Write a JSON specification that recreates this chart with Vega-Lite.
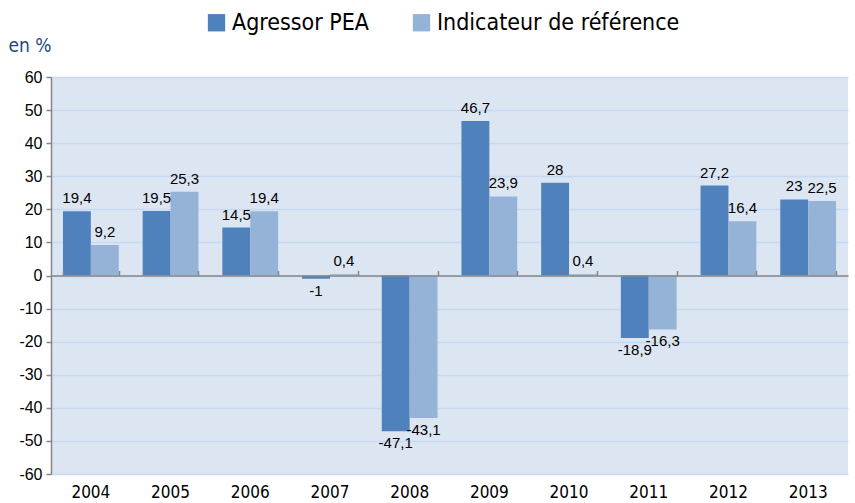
{
  "$schema": "https://vega.github.io/schema/vega-lite/v6.json",
  "width": 797,
  "height": 397,
  "autosize": {"type": "none"},
  "padding": {"left": 51, "top": 77, "right": 7, "bottom": 29},
  "background": "white",
  "config": {
    "view": {"fill": "#dce6f2", "stroke": null},
    "locale": {"number": {"decimal": ",", "thousands": " ", "grouping": [3], "currency": ["", " €"], "minus": "-"}},
    "font": "Arial"
  },
  "data": {
    "values": [
      {"year": "2004", "series": "Agressor PEA", "value": 19.4},
      {"year": "2004", "series": "Indicateur de référence", "value": 9.2},
      {"year": "2005", "series": "Agressor PEA", "value": 19.5},
      {"year": "2005", "series": "Indicateur de référence", "value": 25.3},
      {"year": "2006", "series": "Agressor PEA", "value": 14.5},
      {"year": "2006", "series": "Indicateur de référence", "value": 19.4},
      {"year": "2007", "series": "Agressor PEA", "value": -1},
      {"year": "2007", "series": "Indicateur de référence", "value": 0.4},
      {"year": "2008", "series": "Agressor PEA", "value": -47.1},
      {"year": "2008", "series": "Indicateur de référence", "value": -43.1},
      {"year": "2009", "series": "Agressor PEA", "value": 46.7},
      {"year": "2009", "series": "Indicateur de référence", "value": 23.9},
      {"year": "2010", "series": "Agressor PEA", "value": 28},
      {"year": "2010", "series": "Indicateur de référence", "value": 0.4},
      {"year": "2011", "series": "Agressor PEA", "value": -18.9},
      {"year": "2011", "series": "Indicateur de référence", "value": -16.3},
      {"year": "2012", "series": "Agressor PEA", "value": 27.2},
      {"year": "2012", "series": "Indicateur de référence", "value": 16.4},
      {"year": "2013", "series": "Agressor PEA", "value": 23},
      {"year": "2013", "series": "Indicateur de référence", "value": 22.5}
    ]
  },
  "encoding": {
    "x": {"field": "year", "type": "nominal", "scale": {"paddingInner": 0.3, "paddingOuter": 0.15}},
    "xOffset": {"field": "series", "type": "nominal", "scale": {"padding": 0}},
    "y": {
      "field": "value", "type": "quantitative",
      "scale": {"domain": [-60, 60], "nice": false, "zero": false},
      "axis": {
        "values": [-60, -50, -40, -30, -20, -10, 0, 10, 20, 30, 40, 50, 60],
        "format": "d",
        "title": "en %",
        "titleAngle": 0, "titleAlign": "left", "titleBaseline": "middle",
        "titleX": -43, "titleY": -32,
        "titleFont": "DejaVu Sans Condensed",
        "titleFontSize": 19, "titleFontWeight": "normal", "titleColor": "#1f497d",
        "labelFont": "Arial",
        "labelFontSize": 16, "labelColor": "#000000", "labelPadding": 4,
        "domainColor": "#868686", "domainWidth": 1.5,
        "tickColor": "#868686", "tickSize": 5, "tickWidth": 1.5,
        "gridColor": "#c6d9f1", "gridWidth": 1.5
      }
    }
  },
  "layer": [
    {
      "mark": {"type": "bar"},
      "encoding": {
        "x": {"field": "year", "type": "nominal", "scale": {"paddingInner": 0.3, "paddingOuter": 0.15},
          "axis": {"title": null, "labelAngle": 0, "domain": false, "ticks": false, "labelPadding": 10,
            "labelFont": "DejaVu Sans Condensed", "labelFontSize": 17, "labelColor": "#000000"}},
        "color": {
          "field": "series", "type": "nominal",
          "scale": {"domain": ["Agressor PEA", "Indicateur de référence"], "range": ["#4f81bd", "#95b3d7"]},
          "legend": {
            "title": null, "orient": "none", "direction": "horizontal",
            "legendX": 154, "legendY": -66,
            "symbolType": "square", "symbolSize": 300, "symbolStrokeWidth": 0,
            "labelFont": "DejaVu Sans Condensed", "labelLimit": 500,
            "labelFontSize": 23, "labelColor": "#000000", "columnPadding": 40, "labelOffset": 4
          }
        }
      }
    },
    {
      "transform": [{"filter": "datum.value >= 0"}],
      "mark": {"type": "text", "baseline": "bottom", "dy": -5, "fontSize": 15, "color": "#000000", "font": "Arial"},
      "encoding": {
        "x": {"field": "year", "type": "nominal",
          "axis": {"title": null, "labels": false, "offset": -198.5, "tickBand": "extent", "ticks": true,
            "tickSize": 5, "tickColor": "#868686", "tickWidth": 1.5, "domainColor": "#868686", "domainWidth": 1.5, "zindex": 1}},
        "text": {"field": "value", "type": "quantitative", "format": ".1~f"}
      }
    },
    {
      "transform": [{"filter": "datum.value < 0"}],
      "mark": {"type": "text", "baseline": "top", "dy": 5, "fontSize": 15, "color": "#000000", "font": "Arial"},
      "encoding": {
        "x": {"field": "year", "type": "nominal", "axis": null},
        "text": {"field": "value", "type": "quantitative", "format": ".1~f"}
      }
    }
  ],
  "resolve": {"axis": {"x": "independent"}}
}
